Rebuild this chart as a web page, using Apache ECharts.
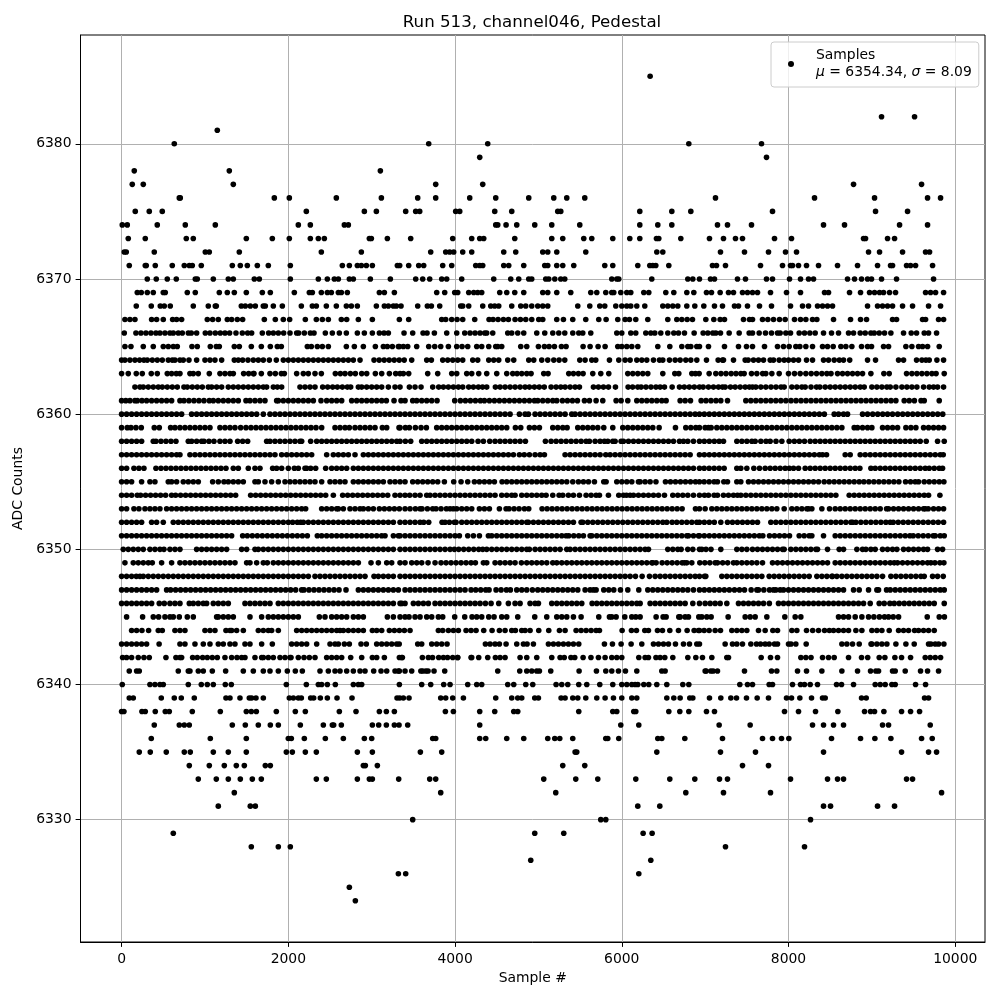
<!DOCTYPE html>
<html><head><meta charset="utf-8">
<style>html,body{margin:0;padding:0;background:#fff}#c{width:1000px;height:1000px}</style>
<script src="https://cdn.jsdelivr.net/npm/echarts@6/dist/echarts.min.js"></script>
</head><body><div id="c"></div>
<script>
const xTicks=[0,2000,4000,6000,8000,10000];
const yTicks=[6330,6340,6350,6360,6370,6380];
const L6385=[6340];
const L6382=[9116,9512];
const L6381=[1148];
const L6380=[632,3684,4392,6804,7676];
const L6379=[4296,7736];
const L6378=[152,1292,3104];
const L6377=[128,260,1340,3768,4332,8780,9596];
const L6376=[692,704,1832,2012,2576,3116,3552,3768,4176,4488,4884,5184,5340,5556,7124,8312,9032,9668,9824];
const L6375=[164,332,488,2216,2912,3056,3408,3528,3576,4008,4056,4476,4680,5232,5268,6216,6600,6828,7808,9044,9428];
const L6374=[8,68,428,764,1124,2120,2264,2672,2720,4488,4512,4612,4740,4956,5160,5496,6216,6432,6600,7148,7268,7556,8420,8672,9332,9668];
const L6373=[80,284,776,860,1496,1808,2012,2264,2360,2432,2972,2996,3188,3468,3972,4200,4296,4344,4716,5160,5292,5544,5640,5892,6096,6216,6416,6444,6708,7052,7220,7364,7448,7832,8036,8900,8924,9188,9272];
const L6372=[32,56,392,1004,1052,1412,2396,2876,3708,3888,3936,3984,4092,4200,4584,4728,5052,5112,5220,5568,6420,6492,7184,7472,7760,7964,8096,8960,9092,9368,9644,9692];
const L6371=[92,284,296,404,608,752,812,848,956,1328,1424,1508,1628,1760,2024,2648,2732,2828,2876,2936,3008,3308,3336,3444,3564,3624,3852,3960,4248,4296,4332,4584,4644,4824,5076,5112,5220,5292,5424,5796,5892,6192,6336,6372,6408,6564,7088,7136,7244,7664,7928,8024,8048,8120,8216,8360,8588,8828,9068,9224,9248,9416,9464,9524,9728];
const L6370=[308,416,548,656,884,908,1100,1280,1340,1592,1652,2024,2360,2468,2552,2600,2732,2780,2984,3224,3528,3612,3696,3840,3900,4080,4464,4668,4764,4884,4920,5088,5124,5196,5268,5316,5880,5940,5964,6360,6792,6852,6932,7064,7112,7388,7484,7736,7808,8012,8144,8240,8300,8708,8792,8876,8948,8996,9116,9296,9740];
const L6369=[188,236,308,380,500,524,788,884,1172,1268,1352,1496,1688,1784,2072,2252,2288,2396,2468,2516,2600,2636,2708,3092,3152,3272,3780,3876,3996,4032,4164,4224,4272,4320,4536,4620,4716,4824,5052,5112,5220,5388,5628,5700,5808,5880,5904,5988,6060,6108,6264,6324,6528,6624,6780,6864,7016,7076,7180,7280,7340,7448,7508,7568,7628,7784,7976,8144,8432,8480,8732,8864,8972,9032,9092,9140,9212,9284,9644,9704,9764,9860];
const L6368=[176,356,464,512,584,860,1040,1124,1136,1436,1484,1544,1604,1700,1724,1820,1928,2156,2288,2336,2456,2576,2696,2756,2828,3056,3152,3200,3260,3296,3352,3552,3668,3716,3816,4068,4092,4164,4332,4428,4476,4524,4680,4788,4848,4920,4992,5052,5112,5472,5616,5736,5796,5928,6000,6060,6108,6180,6276,6492,6552,6612,6672,6780,6876,6984,7112,7208,7352,7400,7508,7652,7796,8024,8168,8240,8348,8408,8468,8528,8948,9068,9128,9188,9248,9368,9488,9680,9824];
const L6367=[40,100,160,360,420,500,612,660,720,1028,1092,1160,1268,1320,1388,1452,1712,1844,1940,2016,2204,2336,2408,2480,2636,2700,2840,3008,3332,3444,3840,3888,3960,4024,4092,4236,4408,4456,4516,4580,4640,4720,4784,4848,4920,5004,5052,5220,5300,5412,5568,5724,5812,5952,6040,6092,6168,6312,6552,6660,6720,6784,6848,7008,7104,7180,7232,7460,7532,7568,7688,7752,7820,7892,7960,8072,8144,8208,8288,8340,8540,8744,8864,8936,9248,9296,9608,9644,9800,9860];
const L6366=[32,172,232,292,352,412,460,520,580,620,680,728,800,836,900,1004,1060,1124,1184,1240,1296,1372,1448,1512,1560,1688,1764,1820,1880,1944,2020,2100,2124,2192,2264,2308,2444,2528,2612,2696,2828,2912,3008,3092,3148,3200,3388,3492,3616,3664,3752,3900,4020,4116,4180,4240,4300,4356,4380,4452,4632,4680,4752,4824,4980,5076,5172,5244,5316,5412,5484,5532,5628,5940,6000,6108,6168,6288,6348,6396,6468,6552,6624,6680,6752,6868,6976,7032,7092,7128,7184,7288,7408,7528,7568,7648,7724,7796,7868,7900,7968,8024,8128,8192,8256,8320,8420,8516,8600,8720,8780,8860,8920,8988,9028,9088,9152,9228,9380,9472,9536,9628,9680,9776];
const L6365=[40,112,260,380,500,560,620,668,844,908,1064,1136,1172,1352,1412,1556,1676,1784,1868,1916,2228,2276,2348,2408,2480,2696,2792,2900,3044,3140,3188,3248,3320,3332,3380,3432,3540,3684,3756,3828,3920,4020,4084,4152,4260,4320,4404,4488,4512,4560,4788,4860,5000,5072,5128,5192,5276,5332,5536,5620,5716,5800,5952,6000,6060,6120,6192,6432,6576,6720,6792,6828,6900,6932,7040,7232,7400,7496,7568,7712,7868,7940,8008,8088,8136,8208,8288,8408,8468,8536,8628,8688,8760,8876,8948,8996,9140,9200,9408,9480,9560,9608,9668,9808];
const L6364=[0,40,100,160,216,268,308,368,428,488,560,608,640,700,740,808,900,1000,1060,1120,1200,1352,1400,1452,1516,1580,1640,1700,1772,1856,1940,2000,2060,2120,2180,2240,2300,2360,2420,2480,2540,2600,2660,2720,2780,2860,3028,3090,3150,3210,3270,3330,3390,3480,3660,3716,3852,3912,3972,4032,4092,4212,4272,4404,4464,4524,4632,4704,4884,4944,5040,5112,5184,5248,5316,5496,5560,5640,5688,5852,5964,6040,6100,6180,6240,6300,6380,6452,6492,6572,6640,6700,6768,6828,6900,7016,7156,7208,7220,7340,7480,7516,7580,7640,7700,7780,7820,7888,7948,8000,8060,8120,8216,8288,8420,8480,8548,8610,8660,8734,8948,9044,9320,9380,9536,9600,9648,9688,9780,9860];
const L6363=[0,80,176,248,356,428,548,600,656,700,820,860,920,1052,1180,1240,1300,1340,1464,1524,1580,1588,1676,1780,1844,1916,1952,2100,2180,2240,2320,2396,2564,2624,2680,2744,2804,2880,2940,3044,3120,3212,3288,3340,3380,3444,3672,3792,3960,4020,4140,4200,4284,4380,4500,4620,4692,4744,4800,4860,4912,5064,5116,5364,5420,5480,5536,5652,5748,5844,6072,6132,6192,6252,6312,6492,6636,6684,6840,6884,6928,7048,7128,7190,7250,7312,7370,7428,7468,7556,7620,7690,7728,7800,7888,8000,8072,8140,8208,8272,8336,8400,8460,8510,8588,8648,8708,8768,8828,8888,8988,9144,9208,9416,9480,9540,9600,9660,9720,9770,9868];
const L6362=[160,220,260,320,380,440,488,548,608,668,748,788,848,908,968,1040,1080,1140,1200,1280,1340,1400,1460,1520,1580,1640,1700,1740,1820,1868,1920,2140,2200,2260,2320,2412,2472,2532,2588,2648,2708,2748,2840,2880,2940,3000,3060,3120,3200,3280,3340,3452,3520,3592,3732,3804,3860,3920,3980,4040,4092,4164,4220,4280,4330,4380,4484,4540,4600,4660,4720,4780,4840,4892,4952,5010,5070,5152,5212,5268,5320,5380,5440,5492,5660,5720,5780,5840,5924,6076,6130,6192,6232,6290,6350,6410,6460,6512,6604,6692,6750,6810,6870,6932,6976,7040,7100,7160,7208,7240,7304,7360,7420,7480,7530,7568,7608,7668,7728,7790,7850,7910,7948,8040,8100,8160,8200,8270,8336,8376,8440,8500,8560,8620,8680,8740,8800,8860,8908,9000,9060,9120,9180,9220,9288,9360,9420,9480,9540,9620,9688,9740,9788,9860];
const L6361=[0,50,100,160,188,244,300,360,420,480,540,600,700,748,808,868,928,988,1052,1100,1160,1220,1280,1340,1400,1492,1540,1600,1660,1720,1860,1880,1940,2000,2060,2120,2180,2240,2300,2392,2460,2520,2580,2640,2760,2820,2880,2940,3000,3060,3120,3176,3268,3352,3400,3492,3540,3600,3660,3720,3784,3996,4064,4124,4184,4244,4304,4352,4412,4472,4532,4592,4652,4712,4772,4832,4892,4952,4992,5052,5112,5172,5220,5288,5348,5408,5468,5552,5612,5692,5772,5932,5992,6072,6180,6240,6300,6360,6420,6480,6532,6700,6760,6824,6952,7010,7070,7130,7188,7268,7488,7548,7608,7668,7728,7788,7848,7908,7968,8030,8090,8150,8210,8270,8330,8390,8450,8510,8570,8630,8690,8750,8810,8870,8930,8990,9050,9110,9170,9230,9288,9388,9448,9510,9590,9628,9808];
const L6360=[0,60,120,180,240,300,360,420,480,540,600,660,720,840,900,960,1020,1080,1140,1200,1260,1320,1380,1440,1500,1560,1620,1700,1780,1840,1900,1960,2020,2080,2140,2200,2260,2320,2380,2440,2500,2560,2620,2680,2740,2800,2860,2920,2980,3040,3100,3160,3220,3280,3340,3400,3460,3520,3580,3640,3700,3760,3820,3880,3940,4000,4060,4120,4180,4240,4300,4360,4420,4480,4540,4600,4660,4772,4840,4880,4960,5020,5080,5140,5200,5260,5320,5400,5440,5500,5560,5620,5680,5740,5800,5860,5920,5980,6040,6100,6160,6220,6280,6340,6400,6460,6520,6580,6640,6700,6760,6820,6880,6932,6990,7050,7110,7170,7230,7290,7350,7410,7470,7530,7590,7650,7710,7770,7830,7890,7950,8010,8070,8130,8190,8250,8310,8370,8430,8548,8600,8660,8708,8888,8948,9010,9070,9130,9188,9248,9310,9370,9430,9490,9550,9610,9670,9730,9790,9850];
const L6359=[0,68,112,172,236,392,452,588,640,700,760,820,880,940,1000,1060,1180,1240,1300,1360,1428,1492,1552,1612,1672,1732,1792,1852,1912,1972,2032,2092,2152,2212,2272,2332,2400,2560,2620,2680,2732,2800,2860,2920,2980,3040,3128,3180,3328,3340,3404,3452,3524,3592,3656,3780,3840,3900,3960,4020,4080,4140,4200,4260,4320,4380,4440,4500,4560,4620,4724,4788,4892,4952,5012,5172,5232,5292,5344,5472,5532,5592,5652,5712,5784,5892,6012,6072,6132,6192,6252,6312,6372,6448,6644,6768,6828,6888,6932,7000,7040,7072,7140,7200,7260,7320,7380,7440,7500,7560,7620,7680,7740,7800,7860,7920,7980,8040,8100,8160,8220,8280,8340,8400,8460,8520,8580,8640,8788,8828,8888,8948,9000,9128,9188,9248,9308,9408,9468,9528,9620,9680,9740,9800,9860];
const L6358=[0,60,120,180,240,380,412,472,532,592,652,800,840,900,960,988,1048,1108,1180,1240,1300,1392,1452,1512,1740,1780,1840,1900,1960,2020,2080,2140,2160,2268,2340,2400,2460,2520,2580,2640,2700,2760,2820,2880,2940,3000,3060,3120,3180,3240,3300,3340,3404,3468,3600,3660,3720,3780,3840,3900,3960,4020,4080,4140,4200,4276,4340,4416,4480,4540,4600,4660,4720,4780,4844,5084,5152,5212,5272,5332,5392,5452,5512,5572,5612,5680,5740,5792,5832,5892,5920,5992,6020,6080,6140,6200,6260,6320,6380,6440,6500,6560,6620,6692,6740,6792,6860,6932,6990,7050,7110,7168,7220,7380,7440,7500,7560,7600,7668,7730,7780,7850,7920,8008,8070,8130,8192,8260,8320,8380,8440,8500,8560,8620,8680,8740,8800,8860,8920,8980,9040,9100,9160,9220,9280,9340,9400,9460,9520,9580,9652,9788,9868];
const L6357=[0,60,120,180,240,300,360,420,480,540,600,660,700,820,880,940,1000,1060,1120,1180,1240,1300,1360,1420,1480,1540,1600,1660,1720,1780,1840,1920,1980,2040,2100,2160,2220,2280,2460,2540,2600,2660,2720,2800,2900,2960,3020,3080,3140,3200,3260,3320,3380,3440,3500,3560,3620,3680,3740,3800,3860,3920,3980,4040,4100,4160,4220,4280,4340,4400,4460,4520,4580,4640,4700,4772,4830,4892,4960,5020,5072,5320,5380,5440,5500,5560,5620,5680,5740,5808,5860,5920,5980,6040,6100,6160,6220,6280,6340,6400,6460,6520,6580,6640,6700,6760,6820,6932,6990,7050,7110,7170,7230,7290,7350,7410,7470,7530,7590,7650,7710,7770,7830,7890,7950,8010,8070,8130,8190,8250,8310,8370,8408,8456,8680,8740,8860,8920,8980,9040,9100,9160,9220,9280,9340,9400,9460,9520,9580,9640,9700,9760,9820,9856];
const L6356=[0,60,148,208,268,412,472,532,592,652,712,772,832,892,952,1012,1072,1132,1192,1252,1340,1400,1520,1600,1660,1812,1860,1920,2000,2072,2120,2200,2220,2268,2328,2448,2520,2580,2640,2700,2780,2840,2900,2960,3020,3080,3140,3200,3260,3320,3380,3440,3500,3560,3620,3680,3740,3800,3860,3920,3980,4040,4100,4160,4220,4280,4340,4400,4460,4520,4580,4640,4700,4760,4820,4880,4940,5000,5060,5120,5180,5240,5300,5360,5420,5480,5540,5600,5660,5720,5780,5840,5900,5960,6020,6080,6140,6200,6260,6320,6380,6440,6500,6560,6620,6680,6740,6800,6860,6932,6988,7048,7108,7168,7228,7380,7428,7500,7584,7652,7720,7780,7840,7900,7960,8010,8060,8120,8200,8260,8320,8380,8440,8500,8560,8620,8680,8740,8800,8856,8988,9040,9100,9160,9220,9280,9340,9400,9460,9520,9580,9640,9688,9748,9808,9848];
const L6355=[0,60,120,240,340,400,560,600,660,740,800,860,920,1092,1160,1228,1280,1340,1400,1460,1600,1640,1720,1800,1880,1960,2020,2080,2140,2200,2260,2320,2400,2500,2560,2620,2680,2780,2840,2900,2960,3020,3080,3140,3220,3280,3340,3400,3492,3552,3612,3672,3732,3792,3872,3984,4072,4152,4232,4292,4352,4412,4472,4564,4620,4680,4740,4800,4860,4920,4980,5040,5100,5160,5220,5280,5340,5412,5480,5540,5600,5672,5784,5812,5940,6000,6060,6120,6200,6220,6280,6340,6410,6524,6584,6644,6704,6764,6824,6884,6932,6988,7048,7108,7148,7224,7268,7380,7428,7520,7580,7640,7700,7760,7820,7880,7940,8000,8060,8120,8180,8240,8300,8360,8428,8488,8548,8608,8668,8728,8788,8848,8904,8964,9024,9084,9144,9204,9264,9324,9404,9464,9520,9560,9628,9688,9748,9808,9864];
const L6354=[0,60,120,188,228,288,348,408,468,528,600,648,708,768,828,888,948,1008,1068,1128,1188,1248,1308,1368,1548,1608,1668,1728,1788,1848,1908,1968,2028,2088,2148,2208,2268,2328,2388,2448,2540,2652,2712,2772,2832,2892,2952,3012,3072,3132,3192,3280,3340,3400,3456,3520,3580,3660,3700,3760,3820,3880,3940,4000,4060,4120,4180,4240,4300,4360,4420,4480,4560,4620,4680,4720,4800,4860,4920,4980,5040,5092,5172,5248,5292,5360,5420,5492,5572,5632,5692,5732,5840,5964,6020,6056,6100,6140,6200,6260,6320,6380,6440,6512,6612,6672,6732,6792,6860,6932,6992,7040,7108,7148,7220,7280,7340,7388,7428,7488,7548,7608,7668,7728,7788,7848,7908,7968,8028,8088,8148,8208,8268,8328,8388,8448,8508,8568,8728,8788,8848,8908,8968,9028,9088,9148,9208,9268,9328,9388,9448,9508,9568,9628,9680,9816];
const L6353=[0,60,148,208,280,340,400,460,540,600,660,720,780,840,900,960,1020,1080,1140,1200,1260,1320,1380,1440,1500,1560,1620,1680,1740,1800,1860,1920,1980,2040,2100,2160,2208,2400,2460,2520,2580,2600,2660,2740,2800,2860,2900,2960,3020,3092,3152,3212,3272,3332,3400,3460,3524,3580,3604,3668,3732,3772,3832,3896,3940,3980,4020,4080,4140,4200,4292,4352,4412,4532,4612,4648,4708,4768,4832,4884,5044,5104,5164,5224,5284,5344,5404,5464,5524,5584,5644,5704,5764,5824,5884,5944,6004,6064,6124,6184,6244,6304,6364,6424,6484,6544,6604,6664,6724,6884,6932,7000,7080,7140,7200,7260,7320,7380,7440,7500,7560,7620,7680,7740,7800,7860,7948,8040,8100,8160,8220,8240,8280,8400,8492,8560,8620,8680,8740,8800,8860,8920,8980,9040,9100,9176,9200,9260,9320,9380,9440,9500,9560,9620,9640,9676,9740,9800,9860];
const L6352=[0,60,120,180,240,360,420,500,620,680,740,800,860,920,980,1040,1100,1160,1220,1280,1340,1400,1460,1520,1580,1640,1700,1760,1820,1880,1940,2000,2052,2108,2148,2180,2240,2300,2360,2420,2480,2540,2600,2660,2720,2780,2840,2900,2960,3020,3080,3140,3200,3260,3340,3400,3460,3520,3580,3624,3684,3844,3880,3932,3992,4012,4080,4140,4200,4260,4320,4380,4440,4500,4560,4620,4680,4740,4800,4860,4880,4940,5000,5060,5120,5180,5240,5300,5360,5420,5512,5532,5592,5652,5712,5772,5832,5892,5952,6012,6072,6132,6192,6252,6312,6372,6432,6492,6540,6604,6660,6720,6780,6840,6900,6932,6990,7050,7110,7188,7268,7328,7388,7448,7508,7568,7628,7788,7848,7908,7968,8028,8088,8148,8208,8268,8328,8388,8448,8508,8568,8628,8688,8748,8768,8808,8868,8928,8988,9048,9108,9168,9220,9256,9316,9376,9436,9496,9556,9616,9676,9736,9796,9860];
const L6351=[0,60,120,180,240,300,360,420,480,540,600,660,720,780,840,900,960,1020,1080,1140,1200,1260,1320,1452,1508,1568,1628,1688,1748,1808,1868,1928,1988,2048,2108,2168,2228,2348,2400,2460,2520,2580,2640,2700,2760,2820,2880,2940,3000,3060,3120,3160,3260,3320,3340,3400,3460,3520,3580,3640,3700,3760,3820,3880,3940,4000,4052,4152,4220,4292,4400,4440,4500,4560,4620,4680,4740,4800,4860,4920,4980,5040,5100,5160,5220,5280,5332,5364,5424,5484,5540,5620,5640,5700,5760,5820,5880,5940,6000,6060,6120,6180,6240,6300,6360,6420,6480,6540,6600,6660,6720,6780,6800,6860,6920,6932,6990,7050,7110,7170,7230,7290,7350,7410,7470,7530,7590,7650,7692,7772,7832,7892,7952,8012,8128,8188,8248,8280,8420,8560,8620,8680,8740,8800,8860,8920,8980,9040,9100,9160,9220,9280,9340,9400,9456,9496,9556,9616,9676,9736,9760,9820,9868];
const L6350=[20,80,140,200,260,340,400,460,508,580,640,700,900,960,1020,1080,1140,1200,1260,1440,1500,1600,1640,1700,1760,1820,1880,1940,2000,2060,2120,2180,2240,2300,2360,2420,2480,2540,2600,2660,2720,2780,2840,2900,2960,3020,3080,3140,3200,3260,3340,3400,3460,3520,3580,3640,3700,3760,3820,3880,3940,3992,4044,4104,4164,4224,4284,4332,4380,4440,4500,4560,4620,4680,4740,4800,4860,4892,4960,5020,5080,5140,5200,5260,5340,5380,5440,5500,5560,5620,5680,5740,5800,5860,5920,5980,6040,6100,6160,6220,6280,6320,6552,6612,6672,6712,6792,6852,6932,6960,7010,7070,7188,7380,7440,7500,7568,7628,7688,7748,7808,7868,7928,7948,8028,8088,8148,8208,8268,8328,8348,8468,8608,8660,8820,8888,8928,8988,9040,9128,9188,9248,9300,9380,9440,9500,9560,9620,9668,9788,9848];
const L6349=[40,140,200,260,320,368,480,600,700,760,820,880,940,1000,1060,1120,1180,1240,1300,1360,1500,1540,1620,1700,1748,1820,1880,1940,2000,2060,2120,2180,2240,2300,2360,2420,2480,2540,2600,2660,2720,2780,2840,2992,3080,3180,3240,3340,3400,3480,3540,3600,3676,3760,3832,3892,3952,4012,4072,4132,4192,4244,4340,4380,4480,4540,4600,4660,4720,4796,4860,4920,4980,5040,5100,5172,5220,5280,5340,5400,5460,5520,5580,5640,5700,5760,5820,5880,5940,6000,6060,6120,6180,6240,6300,6360,6372,6412,6484,6544,6604,6664,6724,6752,6780,6840,6936,6996,7056,7120,7148,7210,7270,7340,7380,7440,7500,7560,7620,7688,7808,7868,7928,7988,8048,8108,8168,8228,8288,8348,8408,8468,8560,8620,8680,8740,8800,8860,8920,8980,9040,9100,9160,9220,9268,9308,9368,9428,9488,9548,9608,9668,9708,9756,9816,9864];
const L6348=[0,60,120,176,220,260,320,380,440,500,560,620,680,740,800,860,920,980,1040,1100,1160,1220,1280,1340,1400,1460,1520,1580,1640,1700,1760,1820,1880,1940,2000,2060,2120,2180,2240,2320,2380,2440,2500,2560,2620,2680,2740,2800,2860,2920,3028,3080,3140,3200,3260,3340,3400,3460,3520,3580,3640,3700,3760,3820,3880,3940,4000,4060,4120,4180,4240,4300,4360,4420,4480,4540,4600,4660,4720,4780,4840,4900,4960,5020,5080,5140,5200,5260,5320,5380,5440,5500,5560,5620,5680,5740,5800,5860,5920,5980,6040,6100,6164,6244,6332,6400,6460,6520,6580,6640,6700,6760,6820,6880,6932,6992,7008,7200,7260,7320,7380,7440,7500,7560,7620,7680,7768,7828,7888,7948,8008,8068,8128,8188,8248,8340,8400,8460,8520,8528,8580,8640,8700,8760,8820,8880,8940,9000,9060,9128,9228,9288,9348,9408,9468,9528,9588,9628,9728,9788,9856];
const L6347=[0,60,120,180,240,300,360,420,540,588,648,708,768,828,888,948,1008,1068,1128,1188,1248,1308,1368,1428,1488,1548,1608,1668,1728,1788,1848,1908,1968,2028,2088,2160,2188,2248,2308,2368,2428,2488,2548,2608,2692,2840,2900,2960,3020,3080,3140,3200,3260,3320,3400,3460,3520,3580,3640,3700,3760,3820,3880,3940,4000,4060,4120,4192,4248,4308,4368,4408,4492,4552,4616,4664,4740,4800,4860,4928,4992,5052,5112,5172,5232,5292,5352,5412,5472,5560,5620,5660,5692,5784,5844,5904,5984,6072,6204,6312,6372,6432,6492,6552,6612,6672,6732,6792,6860,6932,6990,7050,7110,7170,7230,7290,7352,7412,7472,7552,7620,7640,7704,7772,7820,7848,7900,7940,8000,8060,8120,8180,8240,8300,8360,8420,8480,8540,8600,8660,8780,8848,8960,9060,9080,9176,9220,9280,9340,9400,9460,9520,9580,9640,9700,9760,9820,9868];
const L6346=[0,60,120,180,240,300,360,452,512,580,640,700,812,860,920,980,1020,1100,1160,1220,1280,1480,1540,1600,1660,1720,1780,1880,1940,2000,2060,2120,2180,2240,2300,2360,2420,2480,2540,2600,2660,2720,2780,2840,2900,2960,3020,3080,3140,3200,3260,3340,3360,3400,3500,3560,3620,3680,3760,3820,3880,3940,4000,4060,4120,4180,4240,4300,4364,4432,4524,4640,4720,4780,4900,4960,5000,5160,5220,5280,5340,5400,5460,5520,5644,5700,5760,5820,5880,5940,6000,6060,6120,6180,6220,6340,6400,6460,6520,6580,6640,6700,6760,6852,6932,7000,7060,7120,7180,7260,7400,7460,7520,7580,7640,7700,7770,7880,7940,8000,8060,8120,8180,8240,8300,8360,8420,8480,8540,8600,8660,8720,8780,8840,8900,8980,9088,9148,9216,9268,9328,9388,9448,9508,9568,9628,9688,9748,9868];
const L6345=[60,252,380,444,520,580,620,692,788,860,1140,1160,1220,1280,1340,1540,1680,1760,1820,1880,1940,2000,2060,2120,2372,2440,2520,2580,2640,2700,2780,2840,2900,3188,3260,3340,3400,3448,3520,3580,3660,3720,3800,3852,3996,4116,4204,4260,4320,4404,4468,4560,4620,4752,4956,5100,5220,5280,5340,5420,5512,5724,5852,5880,5932,6036,6120,6168,6220,6412,6496,6532,6684,6700,6760,6800,6924,6960,7020,7072,7276,7480,7540,7600,7740,7956,8080,8148,8600,8660,8720,8800,8880,8960,9024,9090,9152,9200,9256,9320,9664,9808,9870];
const L6344=[120,180,244,324,440,488,640,700,760,1000,1060,1120,1252,1300,1320,1380,1460,1640,1700,1760,1800,1880,2100,2160,2220,2280,2340,2400,2460,2520,2580,2620,2660,2720,2780,2840,2900,3008,3060,3120,3212,3272,3332,3392,3460,3800,3852,3920,3980,4040,4132,4192,4252,4344,4444,4532,4600,4680,4724,4800,4840,4900,5004,5124,5252,5320,5452,5512,5572,5632,5692,5732,6004,6116,6176,6276,6320,6428,6488,6576,6680,6784,6868,6920,6932,6988,7048,7120,7184,7320,7380,7440,7500,7640,7720,7812,7868,8040,8100,8216,8290,8360,8432,8490,8540,8600,8660,8720,8808,8880,9000,9060,9120,9208,9320,9380,9440,9512,9560,9620,9680,9748];
const L6343=[0,60,120,180,240,300,450,700,760,880,980,1060,1160,1220,1300,1360,1480,1540,1680,1808,2040,2100,2160,2220,2340,2500,2560,2600,2672,2732,2872,2936,3060,3120,3180,3240,3300,3330,3552,3600,3720,3780,3840,3904,4364,4420,4480,4532,4612,4740,4820,4864,4940,5120,5180,5240,5300,5360,5420,5484,5792,5888,5992,6112,6240,6380,6440,6500,6560,6644,6740,6812,6900,6932,7240,7328,7380,7448,7548,7616,7664,7720,7768,7832,7868,8000,8030,8088,8212,8640,8700,8768,8848,8990,9000,9060,9120,9180,9288,9408,9508,9680,9708,9760,9800,9864];
const L6342=[12,60,120,200,268,332,532,652,700,720,852,908,972,1028,1088,1148,1240,1320,1384,1440,1480,1600,1680,1700,1760,1820,1900,1960,2020,2032,2120,2188,2252,2320,2460,2520,2580,2640,2748,2880,3008,3060,3152,3332,3360,3368,3608,3680,3730,3804,3860,3910,3972,4030,4032,4192,4200,4284,4392,4484,4540,4600,4780,4860,4980,5160,5260,5310,5390,5436,5536,5630,5720,5800,5880,5940,6000,6204,6280,6320,6410,6460,6516,6612,6792,6888,6968,7080,7260,7280,7672,7784,7868,8148,8208,8270,8408,8480,8548,8720,8876,8950,9088,9156,9276,9356,9464,9640,9700,9760,9824];
const L6341=[92,180,212,680,800,820,920,980,1088,1248,1460,1580,1700,1780,1880,1988,2084,2168,2380,2480,2560,2620,2700,2780,2860,2920,3024,3112,3180,3280,3320,3332,3400,3480,3590,3612,3650,3676,3748,3876,4512,4776,4860,4920,4980,5012,5148,5488,5696,5808,5880,5960,6044,6180,6480,6520,7000,7012,7068,7096,7148,7472,7796,7860,8108,8216,8400,8640,8828,8984,9048,9080,9248,9280,9400,9584,9668,9800];
const L6340=[8,340,400,460,500,800,956,1028,1100,1244,1316,1976,2216,2360,2400,2468,2564,2780,2840,2880,3332,3600,3708,3864,3940,4152,4260,4320,4632,4704,4848,4932,5212,5280,5352,5484,5580,5736,5892,6000,6060,6120,6160,6192,6264,6324,6420,6540,6732,6804,7416,7508,7568,7768,7808,8048,8144,8192,8260,8348,8576,8636,8780,9040,9100,9160,9240,9280,9524,9644];
const L6339=[92,140,476,632,716,872,1252,1300,1420,1532,1560,1612,1700,2012,2060,2120,2156,2268,2304,2384,2468,2584,2764,3304,3336,3380,3448,3828,3888,3972,4100,4488,4680,4752,4800,4956,5000,5272,5320,5412,5472,5568,5700,5800,5900,6000,6120,6180,6540,6624,6700,6816,6852,7052,7188,7308,7376,7496,7624,7760,7976,8036,8136,8276,8408,8440,8876,8932,9632,9680];
const L6338=[0,28,244,284,404,524,572,848,1184,1496,1556,1616,1856,2084,2204,2612,2812,3092,3176,3272,3884,3980,4296,4476,4704,4752,5484,5892,5940,6144,6168,6564,6696,6804,7016,7112,7952,8120,8324,8592,8912,8984,9032,9144,9356,9464,9572];
const L6337=[392,692,752,812,1328,1484,1640,1784,1880,2144,2420,2528,2544,2636,3008,3084,3176,3272,3328,3432,4296,5988,6204,7168,7540,8288,8420,8540,8660,9128,9200,9700];
const L6336=[356,1064,1496,2000,2036,2192,2444,2660,2912,3000,3732,3768,4296,4368,4620,4824,5112,5196,5256,5412,5808,5832,5964,6432,6480,6756,7208,7688,7808,7916,8004,8516,8864,9036,9228,9596,9724];
const L6335=[212,344,536,752,824,1100,1280,1496,1976,2048,2204,2336,2828,3008,3584,3840,5440,5460,6420,7184,7604,8420,9356,9680,9776];
const L6334=[812,1052,1232,1376,1472,1724,1784,2900,2924,3068,5292,5556,7448,7760];
const L6333=[920,1136,1280,1424,1568,1676,2336,2456,2828,2972,3008,3324,3696,3768,5064,5448,5712,6168,6576,6876,7172,7268,8024,8468,8588,8660,9416,9488];
const L6332=[1352,3828,5208,6768,7220,7784,9836];
const L6331=[1160,1544,1604,6192,6456,8420,8504,9068,9272];
const L6330=[3492,5748,5808,8264];
const L6329=[620,4956,5304,6256,6364];
const L6328=[1556,1880,2024,7244,8192];
const L6327=[4908,6348];
const L6326=[3320,3408,6204];
const L6325=[2732];
const L6324=[2804];
const levels=[[6385,L6385],[6382,L6382],[6381,L6381],[6380,L6380],[6379,L6379],[6378,L6378],[6377,L6377],[6376,L6376],[6375,L6375],[6374,L6374],[6373,L6373],[6372,L6372],[6371,L6371],[6370,L6370],[6369,L6369],[6368,L6368],[6367,L6367],[6366,L6366],[6365,L6365],[6364,L6364],[6363,L6363],[6362,L6362],[6361,L6361],[6360,L6360],[6359,L6359],[6358,L6358],[6357,L6357],[6356,L6356],[6355,L6355],[6354,L6354],[6353,L6353],[6352,L6352],[6351,L6351],[6350,L6350],[6349,L6349],[6348,L6348],[6347,L6347],[6346,L6346],[6345,L6345],[6344,L6344],[6343,L6343],[6342,L6342],[6341,L6341],[6340,L6340],[6339,L6339],[6338,L6338],[6337,L6337],[6336,L6336],[6335,L6335],[6334,L6334],[6333,L6333],[6332,L6332],[6331,L6331],[6330,L6330],[6329,L6329],[6328,L6328],[6327,L6327],[6326,L6326],[6325,L6325],[6324,L6324]];
const points=[];
for(const [y,xs] of levels){for(const x of xs){points.push([x,y]);}}
const FONT='"DejaVu Sans"';
const chart=echarts.init(document.getElementById('c'),null,{renderer:'canvas'});
chart.setOption({
 animation:false,
 backgroundColor:'#fff',
 title:{text:'Run 513, channel046, Pedestal',left:527,top:9,textAlign:'center',textStyle:{fontFamily:FONT,fontSize:16.67,fontWeight:'normal',color:'#000'}},
 grid:{left:80.5,right:15,top:35,bottom:58,show:true,borderColor:'#000',borderWidth:1,backgroundColor:'transparent'},
 legend:{show:true,left:771,top:42,padding:[5,7,6,17],orient:'vertical',backgroundColor:'rgba(255,255,255,0.8)',borderColor:'#ccc',borderWidth:1,borderRadius:3,
  itemWidth:6,itemHeight:6,icon:'circle',
  data:[{name:'Samples'}],
  formatter:()=>'{a|Samples}\n{i|μ} {a|= 6354.34,} {i|σ} {a|= 8.09}',
  textStyle:{fontFamily:FONT,fontSize:13.9,color:'#000',padding:[0,0,0,17],lineHeight:17,rich:{a:{fontFamily:FONT,fontSize:13.9,color:'#000',lineHeight:17},i:{fontFamily:FONT,fontSize:13.9,fontStyle:'italic',color:'#000',lineHeight:17}}}},
 xAxis:{type:'value',min:-493,max:10357,name:'Sample #',nameLocation:'middle',nameGap:29,nameTextStyle:{fontFamily:FONT,fontSize:13.9,color:'#000'},
  axisLine:{show:true,onZero:false,lineStyle:{color:'#000',width:1}},
  axisTick:{show:true,length:4.9,lineStyle:{color:'#000',width:1},customValues:xTicks},
  axisLabel:{fontFamily:FONT,fontSize:13.9,color:'#000',margin:10,customValues:xTicks,showMinLabel:true,showMaxLabel:true,hideOverlap:false,formatter:v=>String(v)},
  splitLine:{show:true,lineStyle:{color:'#b0b0b0',width:1}}},
 yAxis:{type:'value',min:6320.95,max:6388.05,name:'ADC Counts',nameLocation:'middle',nameGap:51,nameRotate:90,nameTextStyle:{fontFamily:FONT,fontSize:13.9,color:'#000'},
  axisLine:{show:true,onZero:false,lineStyle:{color:'#000',width:1}},
  axisTick:{show:true,length:4.9,lineStyle:{color:'#000',width:1},customValues:yTicks},
  axisLabel:{fontFamily:FONT,fontSize:13.9,color:'#000',margin:9,customValues:yTicks,showMinLabel:true,showMaxLabel:true,formatter:v=>String(v)},
  splitLine:{show:true,lineStyle:{color:'#b0b0b0',width:1}}},
 series:[{name:'Samples',type:'scatter',data:points,symbol:'circle',symbolSize:5.6,itemStyle:{color:'#000',opacity:1},silent:true,large:false,progressive:0,z:3}]
});
</script></body></html>
